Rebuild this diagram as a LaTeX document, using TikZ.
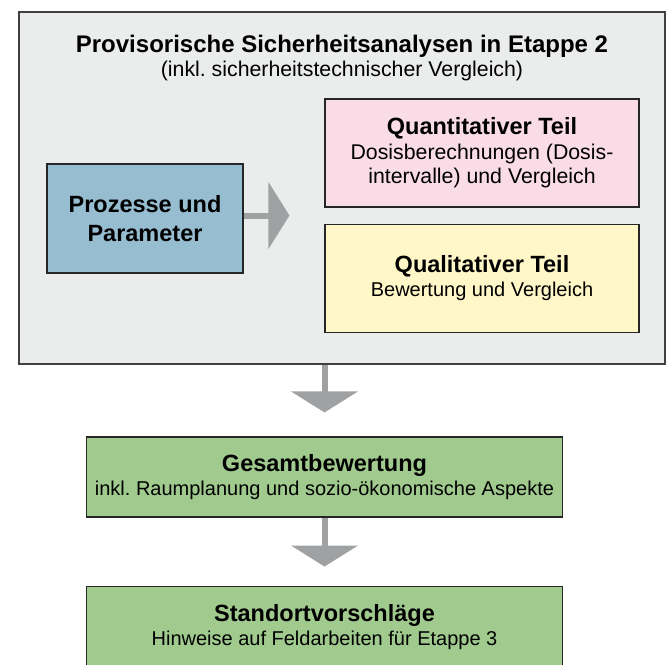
\documentclass[tikz,border=0pt]{standalone}
\usepackage{fontspec}
\setmainfont{Liberation Sans}
\usepackage{tikz}
\usetikzlibrary{arrows.meta,positioning}
\frenchspacing

\definecolor{rahmengrau}{HTML}{EBECEC}
\definecolor{prozessblau}{HTML}{97BDD1}
\definecolor{quantirosa}{HTML}{F9DCE6}
\definecolor{qualigelb}{HTML}{FFF7C8}
\definecolor{ergebnisgruen}{HTML}{A1CB8E}
\definecolor{pfeilgrau}{HTML}{A0A1A3}

\begin{document}
\begin{tikzpicture}[
      x=1pt, y=-1pt,
      mybox/.style={
         rectangle,
         draw=black!85,
         line width=1.1pt,
         inner sep=0pt,
         align=center,
         font=\fontsize{20}{24.5}\selectfont},
      myarrow/.style={
         line width=6pt,
         draw=pfeilgrau,
         -{Triangle[length=21pt,width=66pt,fill=pfeilgrau]}},
      node distance=16pt and 16pt
      ]
      \useasboundingbox (0,0) rectangle (666,664);
      \node[mybox,fill=rahmengrau,draw=black!75,line width=1.3pt,
            minimum width=646pt,minimum height=352pt] (rahmen) at (342,188) {};
      \node[anchor=base,font=\fontsize{24}{29}\selectfont\bfseries] (titel) at (342,52)
         {Provisorische Sicherheitsanalysen in Etappe 2};
      \node[anchor=base,font=\fontsize{21.3}{24.5}\selectfont] (untertitel) at (342,76)
         {(inkl. sicherheitstechnischer Vergleich)};
      \node[mybox,fill=prozessblau,minimum width=196pt,minimum height=109pt,
            font=\fontsize{23.5}{29}\selectfont\bfseries] (prozesse) at (145,218.5)
         {Prozesse und\\Parameter};
      \node[mybox,fill=quantirosa,minimum width=314pt,minimum height=108pt,
            font=\fontsize{21.3}{24.5}\selectfont] (quanti) at (482,153)
         {{\fontsize{23.5}{24.5}\selectfont\bfseries Quantitativer Teil}\\
          Dosisberechnungen (Dosis-\\intervalle) und Vergleich};
      \node[mybox,fill=qualigelb,minimum width=314pt,minimum height=108pt,below=of quanti] (quali)
         {{\fontsize{23.5}{24.5}\selectfont\bfseries Qualitativer Teil}\\
          Bewertung und Vergleich};
      \node[mybox,fill=ergebnisgruen,minimum width=476pt,minimum height=80pt] (gesamt) at (324.5,477)
         {{\fontsize{23.5}{24.5}\selectfont\bfseries Gesamtbewertung}\\
          inkl. Raumplanung und sozio-ökonomische Aspekte};
      \node[mybox,fill=ergebnisgruen,minimum width=476pt,minimum height=82pt,below=68pt of gesamt] (standort)
         {{\fontsize{23.5}{24.5}\selectfont\bfseries Standortvorschläge}\\
          Hinweise auf Feldarbeiten für Etappe 3};

      % block arrows
      \draw[myarrow,shorten >=35pt] ([yshift=3pt]prozesse.east) -- ([yshift=3pt]prozesse.east -| quanti.west);
      \draw[myarrow,shorten >=24pt] (gesamt.north |- rahmen.south) -- (gesamt.north);
      \draw[myarrow,shorten >=19pt] (gesamt.south) -- (standort.north);
    \end{tikzpicture}
\end{document}
